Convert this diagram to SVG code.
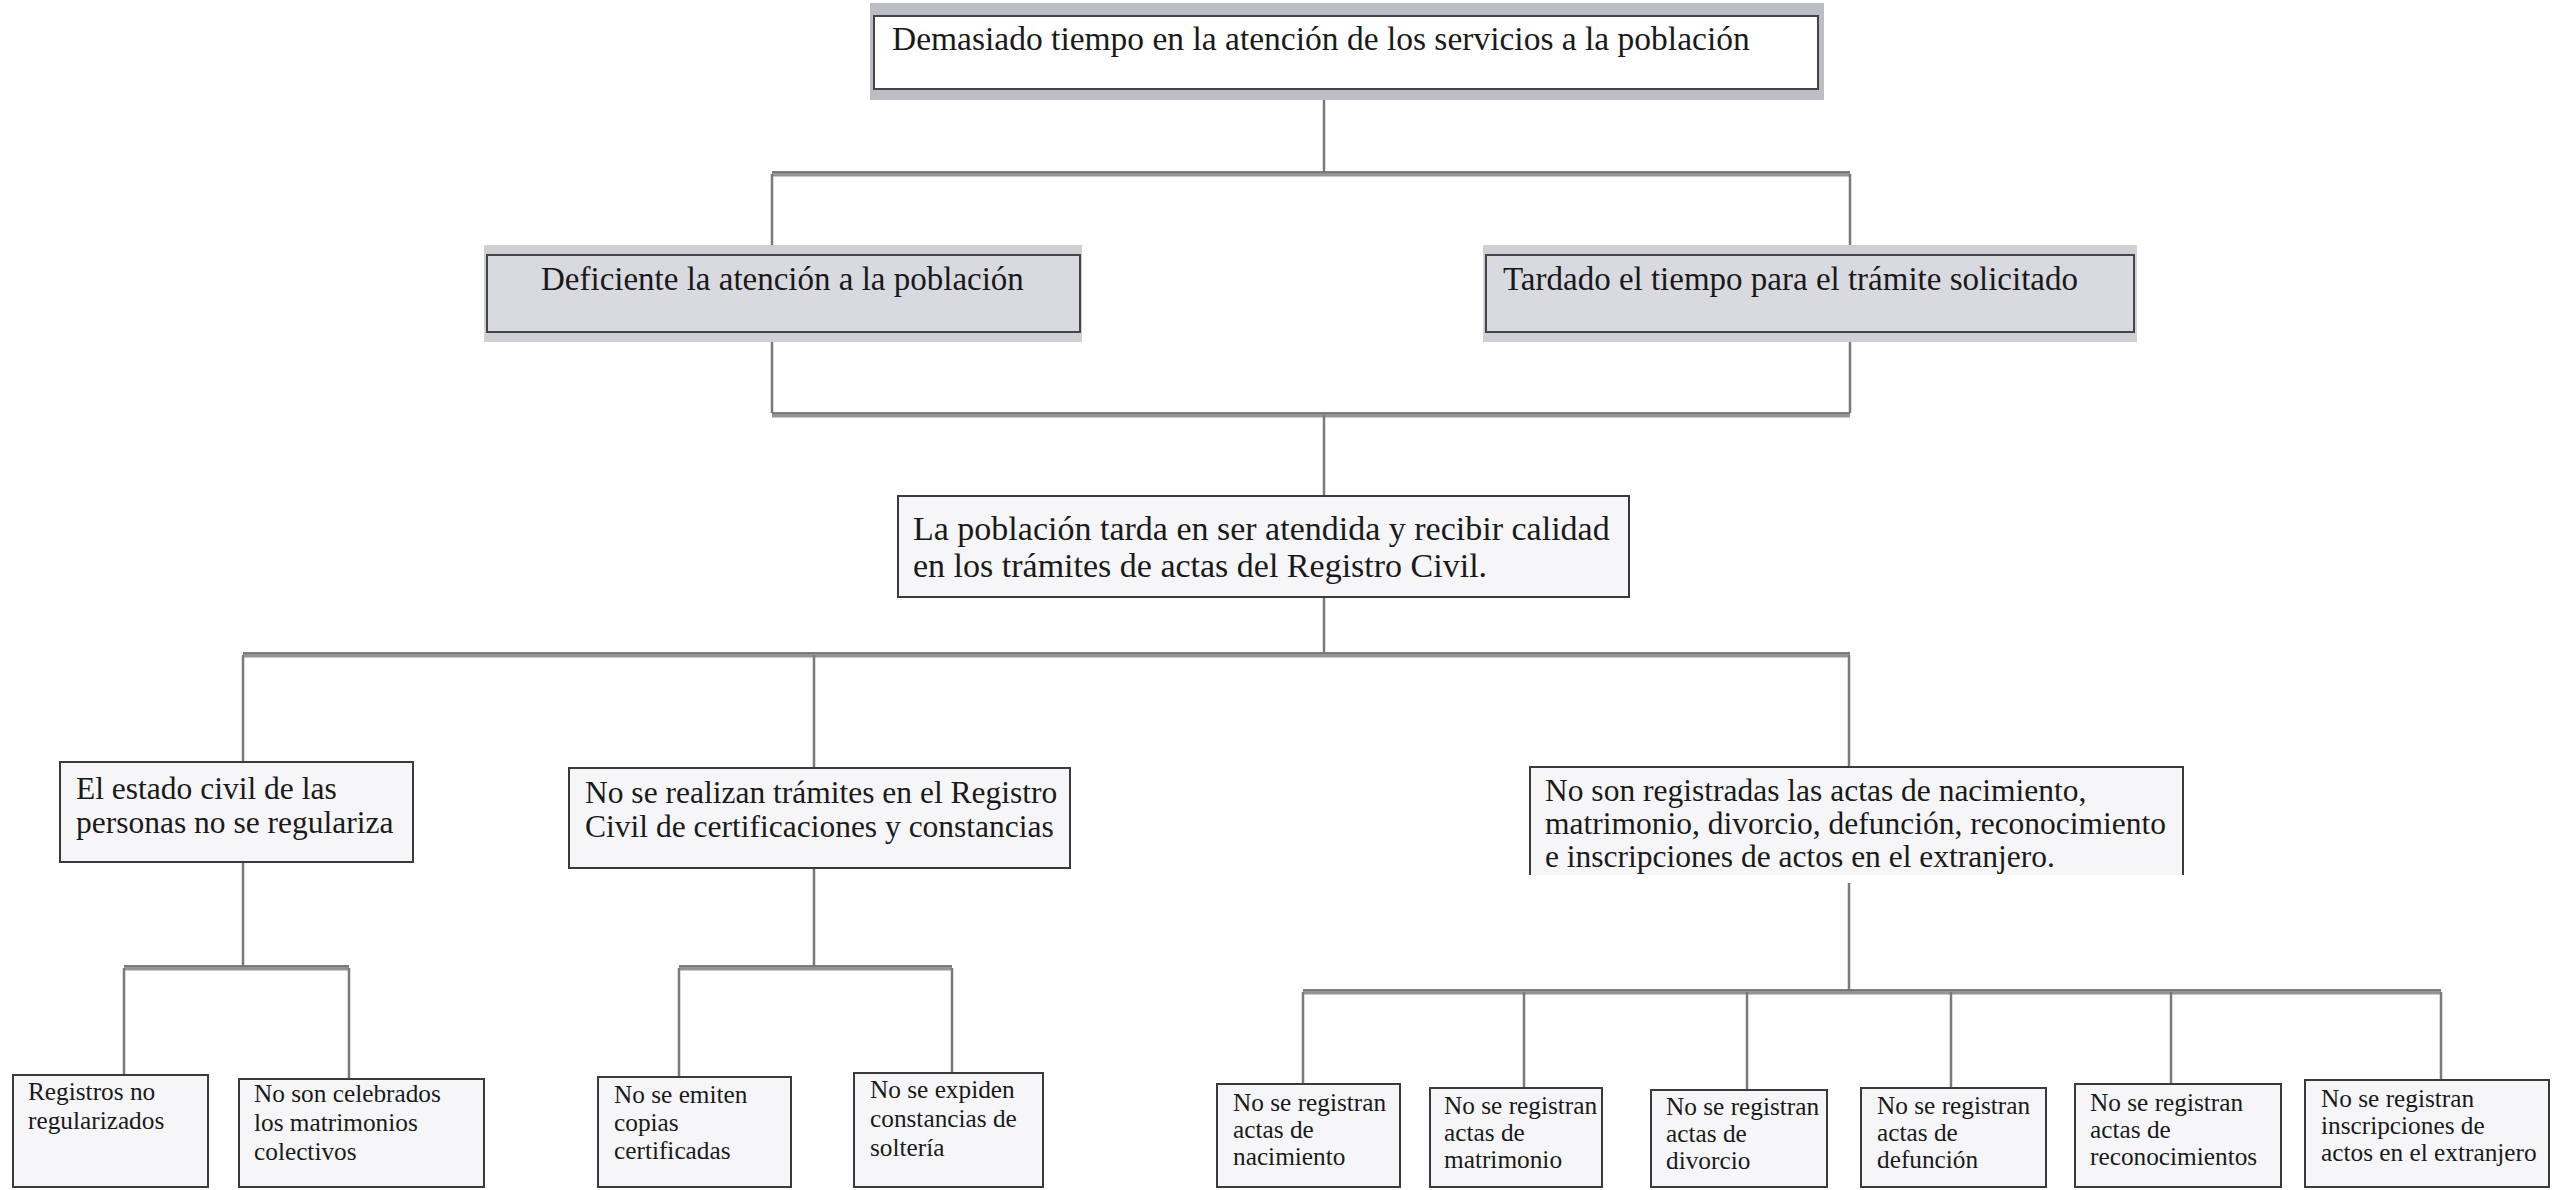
<svg xmlns="http://www.w3.org/2000/svg" width="2559" height="1190" viewBox="0 0 2559 1190">
<style>
text{font-family:"Liberation Serif","DejaVu Serif",serif;fill:#1a1a1a}
.t1{font-size:33.5px}
.t2{font-size:33px}
.t3{font-size:34px}
.t4{font-size:31.5px}
.t5{font-size:25.3px}
.box{fill:#ffffff;stroke:#444;stroke-width:2}
.gray{fill:#d9d9e0;stroke:#444;stroke-width:2}
.light{fill:#f6f6f8;stroke:#3a3a3a;stroke-width:2}
.band{fill:#bdbdc5}
.band2{fill:#cfcfd6}
.v{stroke:#7a7a7a;stroke-width:2.5;fill:none}
.bar{stroke:#959595;stroke-width:5;fill:none}
.bartop{stroke:#6a6a6a;stroke-width:1.5;fill:none}
</style>
<rect width="2559" height="1190" fill="#ffffff"/>

<g id="connectors">
  <line class="v" x1="1324" y1="100" x2="1324" y2="172"/>
  <line class="bar" x1="772" y1="174" x2="1850" y2="174"/>
  <line class="bartop" x1="772" y1="172" x2="1850" y2="172"/>
  <line class="v" x1="772" y1="174" x2="772" y2="246"/>
  <line class="v" x1="1850" y1="174" x2="1850" y2="246"/>

  <line class="v" x1="772" y1="341" x2="772" y2="413"/>
  <line class="v" x1="1850" y1="341" x2="1850" y2="413"/>
  <line class="bar" x1="772" y1="415" x2="1850" y2="415"/>
  <line class="bartop" x1="772" y1="413" x2="1850" y2="413"/>
  <line class="v" x1="1324" y1="415" x2="1324" y2="495"/>

  <line class="v" x1="1324" y1="597" x2="1324" y2="652"/>
  <line class="bar" x1="243" y1="655" x2="1850" y2="655"/>
  <line class="bartop" x1="243" y1="653" x2="1850" y2="653"/>
  <line class="v" x1="243" y1="655" x2="243" y2="762"/>
  <line class="v" x1="814" y1="655" x2="814" y2="768"/>
  <line class="v" x1="1849" y1="655" x2="1849" y2="767"/>

  <line class="v" x1="243" y1="862" x2="243" y2="966"/>
  <line class="bar" x1="124" y1="968" x2="349" y2="968"/>
  <line class="bartop" x1="124" y1="966" x2="349" y2="966"/>
  <line class="v" x1="124" y1="968" x2="124" y2="1075"/>
  <line class="v" x1="349" y1="968" x2="349" y2="1079"/>

  <line class="v" x1="814" y1="868" x2="814" y2="966"/>
  <line class="bar" x1="679" y1="968" x2="952" y2="968"/>
  <line class="bartop" x1="679" y1="966" x2="952" y2="966"/>
  <line class="v" x1="679" y1="968" x2="679" y2="1077"/>
  <line class="v" x1="952" y1="968" x2="952" y2="1073"/>

  <line class="v" x1="1849" y1="883" x2="1849" y2="990"/>
  <line class="bar" x1="1303" y1="992" x2="2441" y2="992"/>
  <line class="bartop" x1="1303" y1="990" x2="2441" y2="990"/>
  <line class="v" x1="1303" y1="992" x2="1303" y2="1084"/>
  <line class="v" x1="1524" y1="992" x2="1524" y2="1088"/>
  <line class="v" x1="1747" y1="992" x2="1747" y2="1090"/>
  <line class="v" x1="1951" y1="992" x2="1951" y2="1088"/>
  <line class="v" x1="2171" y1="992" x2="2171" y2="1084"/>
  <line class="v" x1="2441" y1="992" x2="2441" y2="1080"/>
</g>

<g id="n-top">
  <rect class="band" x="870" y="3" width="954" height="97"/>
  <rect class="box" x="874" y="16" width="944" height="73"/>
  <text class="t1" x="892" y="50">Demasiado tiempo en la atención de los servicios a la población</text>
</g>

<g id="n-deficiente">
  <rect class="band2" x="484" y="245" width="598" height="97"/>
  <rect class="gray" x="487" y="255" width="593" height="77"/>
  <text class="t2" x="541" y="290">Deficiente la atención a la población</text>
</g>

<g id="n-tardado">
  <rect class="band2" x="1483" y="245" width="654" height="97"/>
  <rect class="gray" x="1486" y="255" width="648" height="77"/>
  <text class="t2" x="1503" y="290">Tardado el tiempo para el trámite solicitado</text>
</g>

<g id="n-poblacion">
  <rect class="light" x="898" y="496" width="731" height="101"/>
  <text class="t3" x="913" y="540">La población tarda en ser atendida y recibir calidad</text>
  <text class="t3" x="913" y="577">en los trámites de actas del Registro Civil.</text>
</g>

<g id="n-estado">
  <rect class="light" x="60" y="762" width="353" height="100"/>
  <text class="t4" x="76" y="799">El estado civil de las</text>
  <text class="t4" x="76" y="833">personas no se regulariza</text>
</g>

<g id="n-tramites">
  <rect class="light" x="569" y="768" width="501" height="100"/>
  <text class="t4" x="585" y="803">No se realizan trámites en el Registro</text>
  <text class="t4" x="585" y="837">Civil de certificaciones y constancias</text>
</g>

<g id="n-actas">
  <rect x="1530" y="767" width="653" height="108" fill="#f6f6f8"/>
  <path d="M1530 875 V767 H2183 V875" fill="none" stroke="#3a3a3a" stroke-width="2"/>
  <text class="t4" x="1545" y="801">No son registradas las actas de nacimiento,</text>
  <text class="t4" x="1545" y="834">matrimonio, divorcio, defunción, reconocimiento</text>
  <text class="t4" x="1545" y="867">e inscripciones de actos en el extranjero.</text>
</g>

<g id="n-registros">
  <rect class="light" x="13" y="1075" width="195" height="112"/>
  <text class="t5" x="28" y="1100">Registros no</text>
  <text class="t5" x="28" y="1129">regularizados</text>
</g>

<g id="n-celebrados">
  <rect class="light" x="239" y="1079" width="245" height="108"/>
  <text class="t5" x="254" y="1102">No son celebrados</text>
  <text class="t5" x="254" y="1131">los matrimonios</text>
  <text class="t5" x="254" y="1160">colectivos</text>
</g>

<g id="n-emiten">
  <rect class="light" x="598" y="1077" width="193" height="110"/>
  <text class="t5" x="614" y="1103">No se emiten</text>
  <text class="t5" x="614" y="1131">copias</text>
  <text class="t5" x="614" y="1159">certificadas</text>
</g>

<g id="n-expiden">
  <rect class="light" x="854" y="1073" width="189" height="114"/>
  <text class="t5" x="870" y="1098">No se expiden</text>
  <text class="t5" x="870" y="1127">constancias de</text>
  <text class="t5" x="870" y="1156">soltería</text>
</g>

<g id="n-nacimiento">
  <rect class="light" x="1217" y="1084" width="183" height="103"/>
  <text class="t5" x="1233" y="1111">No se registran</text>
  <text class="t5" x="1233" y="1138">actas de</text>
  <text class="t5" x="1233" y="1165">nacimiento</text>
</g>

<g id="n-matrimonio">
  <rect class="light" x="1430" y="1088" width="172" height="99"/>
  <text class="t5" x="1444" y="1114">No se registran</text>
  <text class="t5" x="1444" y="1141">actas de</text>
  <text class="t5" x="1444" y="1168">matrimonio</text>
</g>

<g id="n-divorcio">
  <rect class="light" x="1651" y="1090" width="176" height="97"/>
  <text class="t5" x="1666" y="1115">No se registran</text>
  <text class="t5" x="1666" y="1142">actas de</text>
  <text class="t5" x="1666" y="1169">divorcio</text>
</g>

<g id="n-defuncion">
  <rect class="light" x="1861" y="1088" width="185" height="99"/>
  <text class="t5" x="1877" y="1114">No se registran</text>
  <text class="t5" x="1877" y="1141">actas de</text>
  <text class="t5" x="1877" y="1168">defunción</text>
</g>

<g id="n-reconocimientos">
  <rect class="light" x="2075" y="1084" width="206" height="103"/>
  <text class="t5" x="2090" y="1111">No se registran</text>
  <text class="t5" x="2090" y="1138">actas de</text>
  <text class="t5" x="2090" y="1165">reconocimientos</text>
</g>

<g id="n-extranjero">
  <rect class="light" x="2305" y="1080" width="244" height="107"/>
  <text class="t5" x="2321" y="1107">No se registran</text>
  <text class="t5" x="2321" y="1134">inscripciones de</text>
  <text class="t5" x="2321" y="1161">actos en el extranjero</text>
</g>
</svg>
